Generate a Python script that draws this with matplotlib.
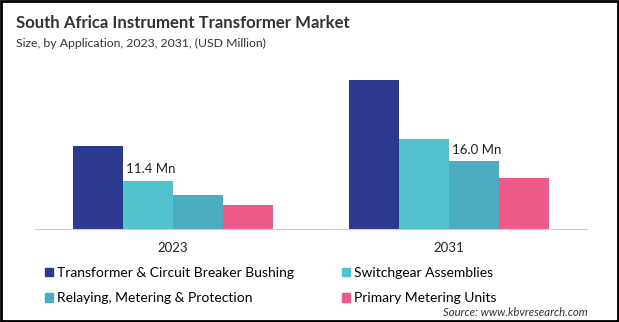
import matplotlib.pyplot as plt
import numpy as np
from matplotlib.patches import Patch

plt.rcParams['font.family'] = ['Lato', 'DejaVu Sans']

years = ["2023", "2031"]
segments = ["Transformer & Circuit Breaker Bushing", "Switchgear Assemblies",
            "Relaying, Metering & Protection", "Primary Metering Units"]
colors = ["#2B3990", "#52C3CE", "#4BACC4", "#EE5A88"]

bushing = [19.6, 35.2]
switchgear = [11.4, 21.2]
relaying = [8.0, 16.0]
metering = [5.7, 12.0]
series = [bushing, switchgear, relaying, metering]

# which segment carries the value label in each year
label_series = [1, 2]

fig = plt.figure(figsize=(6.19, 3.22), dpi=100)
ax = fig.add_axes([35 / 619, 1 - 229 / 322, 552 / 619, 169 / 322])

x = np.arange(len(years))
w = 0.181
for i, (vals, c) in enumerate(zip(series, colors)):
    ax.bar(x + (i - 1.5) * w, vals, width=w, color=c)

for j, si in enumerate(label_series):
    v = series[si][j]
    ax.annotate(f"{v:.1f} Mn", (x[j] + (si - 2) * w, v), xytext=(2, 4),
                textcoords="offset points", ha="left", va="bottom",
                fontsize=9.5, color="#222222")

ax.set_xlim(-0.5, 1.5)
ax.set_ylim(0, 40)
ax.set_xticks(x)
ax.set_xticklabels(years, fontsize=9.5, color="#222222")
ax.tick_params(axis="x", length=0, pad=9)
ax.set_yticks([])
for s in ["top", "right", "left"]:
    ax.spines[s].set_visible(False)
ax.spines["bottom"].set_color("#CCCCCC")

fig.text(16 / 619, 1 - 23 / 322, "South Africa Instrument Transformer Market",
         fontsize=12.1, fontweight="bold", color="#333333", va="center")
fig.text(16 / 619, 1 - 43 / 322, "Size, by Application, 2023, 2031, (USD Million)",
         fontsize=8.8, color="#333333", va="center")

# legend fills column by column, so order entries to read row by row
order = [0, 2, 1, 3]
handles = [Patch(color=colors[k]) for k in order]
fig.legend(handles, [segments[k] for k in order], ncol=2, loc="upper left",
           bbox_to_anchor=(38 / 619, 1 - 260 / 322), frameon=False,
           fontsize=10, handlelength=0.6, handleheight=0.6, handletextpad=0.3,
           columnspacing=3.4, labelspacing=0.95, borderpad=0)

fig.text(588 / 619, 1 - 312 / 322, "Source: www.kbvresearch.com",
         fontsize=8.2, style="italic", color="#333333", ha="right", va="center")

# outer frame
fig.patches.append(plt.Rectangle((0.002, 0.003), 0.996, 0.994, fill=False,
                                 edgecolor="black", linewidth=2,
                                 transform=fig.transFigure, figure=fig))

fig.savefig("out.png", dpi=100)
